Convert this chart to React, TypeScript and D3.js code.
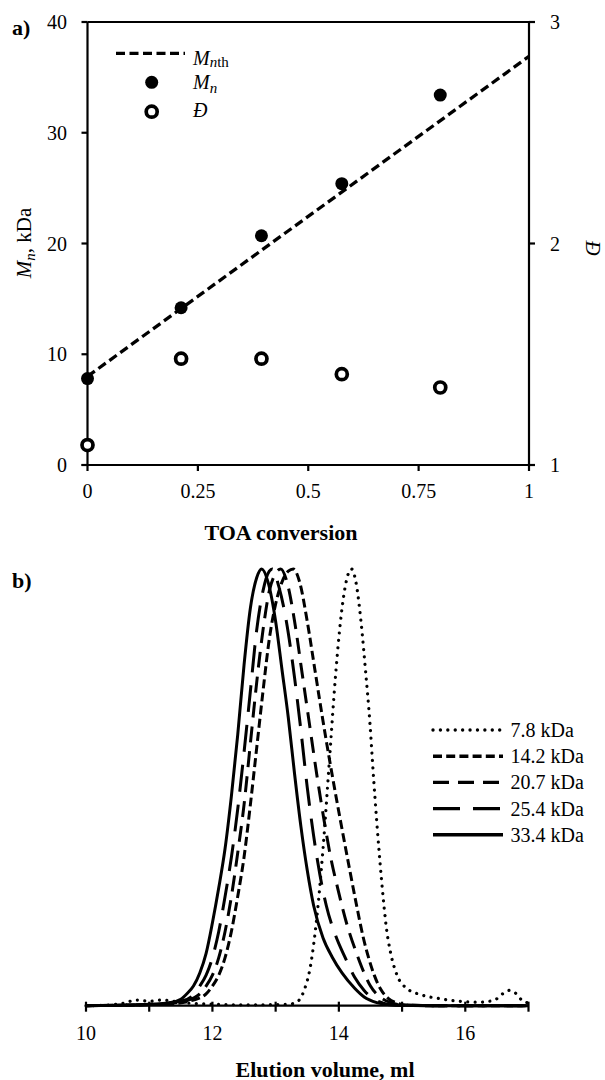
import React from "react";
import * as d3 from "d3";

// ---------- Panel a data ----------
const conversion = [0, 0.212, 0.394, 0.576, 0.799];
const mnValues = [7.8, 14.2, 20.7, 25.4, 33.4];
const dispersity = [1.09, 1.48, 1.48, 1.41, 1.35];
const mnthConversion = [0, 1];
const mnthValues = [8.0, 36.9];
const xTicksTop = [0, 0.25, 0.5, 0.75, 1];
const xTickLabelsTop = ["0", "0.25", "0.5", "0.75", "1"];
const yTicksLeft = [0, 10, 20, 30, 40];
const yTicksRight = [1, 2, 3];

// ---------- Panel b data (elution volume ml, normalised signal) ----------
const elution78: [number, number][] = [
  [10.0, 0], [10.4, 0.002], [10.6, 0.006], [10.8, 0.013], [11.0, 0.01], [11.2, 0.013], [11.4, 0.01],
  [11.6, 0.006], [11.9, 0.004], [12.5, 0.002], [13.2, 0.003], [13.35, 0.01], [13.45, 0.035],
  [13.55, 0.09], [13.65, 0.2], [13.75, 0.36], [13.85, 0.56], [13.95, 0.76], [14.05, 0.91],
  [14.14, 0.985], [14.2, 1.0], [14.27, 0.97], [14.35, 0.88], [14.42, 0.77], [14.49, 0.65],
  [14.55, 0.52], [14.6, 0.42], [14.68, 0.28], [14.75, 0.18], [14.82, 0.12], [14.92, 0.07],
  [15.07, 0.04], [15.3, 0.025], [15.6, 0.016], [15.9, 0.01], [16.2, 0.008], [16.45, 0.012],
  [16.6, 0.028], [16.7, 0.035], [16.8, 0.028], [16.9, 0.012], [17.0, 0.006],
];
const elution142: [number, number][] = [
  [10.0, 0], [11.3, 0.004], [11.7, 0.013], [11.9, 0.027], [12.0, 0.045], [12.1, 0.07], [12.2, 0.11],
  [12.3, 0.17], [12.4, 0.25], [12.5, 0.34], [12.6, 0.46], [12.7, 0.59], [12.8, 0.72], [12.9, 0.84],
  [13.0, 0.92], [13.1, 0.97], [13.2, 0.995], [13.28, 1.0], [13.38, 0.97], [13.5, 0.88], [13.62, 0.77],
  [13.74, 0.66], [13.88, 0.54], [14.03, 0.42], [14.16, 0.32], [14.28, 0.23], [14.38, 0.16],
  [14.47, 0.11], [14.56, 0.07], [14.66, 0.038], [14.78, 0.017], [14.92, 0.006], [15.1, 0.001],
  [15.5, 0], [17.0, 0],
];
const elution207: [number, number][] = [
  [10.0, 0], [11.2, 0.004], [11.6, 0.012], [11.8, 0.027], [11.9, 0.045], [12.0, 0.07], [12.1, 0.11],
  [12.2, 0.17], [12.3, 0.25], [12.4, 0.35], [12.5, 0.46], [12.6, 0.6], [12.7, 0.74], [12.8, 0.86],
  [12.9, 0.95], [13.0, 0.99], [13.08, 1.0], [13.18, 0.97], [13.3, 0.88], [13.42, 0.76], [13.53, 0.65],
  [13.65, 0.53], [13.76, 0.43], [13.87, 0.34], [13.98, 0.27], [14.12, 0.19], [14.28, 0.12],
  [14.4, 0.075], [14.5, 0.045], [14.65, 0.02], [14.8, 0.008], [15.0, 0.002], [15.5, 0], [17.0, 0],
];
const elution254: [number, number][] = [
  [10.0, 0], [11.0, 0.003], [11.5, 0.01], [11.7, 0.025], [11.8, 0.045], [11.9, 0.07], [12.0, 0.11],
  [12.1, 0.17], [12.2, 0.25], [12.3, 0.34], [12.4, 0.45], [12.5, 0.58], [12.6, 0.72], [12.7, 0.86],
  [12.8, 0.95], [12.9, 0.995], [12.95, 1.0], [13.05, 0.96], [13.17, 0.88], [13.3, 0.75], [13.4, 0.63],
  [13.5, 0.5], [13.6, 0.39], [13.7, 0.3], [13.8, 0.23], [13.95, 0.16], [14.1, 0.11], [14.25, 0.065],
  [14.4, 0.035], [14.55, 0.015], [14.7, 0.006], [14.9, 0.001], [15.5, 0], [17.0, 0],
];
const elution334: [number, number][] = [
  [10.0, 0], [10.8, 0.002], [11.3, 0.006], [11.5, 0.015], [11.6, 0.028], [11.7, 0.045], [11.8, 0.075],
  [11.9, 0.12], [12.0, 0.19], [12.1, 0.27], [12.2, 0.36], [12.3, 0.48], [12.4, 0.62], [12.5, 0.78],
  [12.6, 0.91], [12.7, 0.98], [12.78, 1.0], [12.88, 0.97], [13.0, 0.88], [13.1, 0.77], [13.2, 0.66],
  [13.3, 0.53], [13.4, 0.41], [13.5, 0.31], [13.6, 0.23], [13.75, 0.155], [13.9, 0.11], [14.05, 0.075],
  [14.25, 0.04], [14.4, 0.02], [14.6, 0.007], [14.8, 0.002], [15.5, 0], [17.0, 0],
];
const seriesLabels = ["7.8 kDa", "14.2 kDa", "20.7 kDa", "25.4 kDa", "33.4 kDa"];
const seriesData = [elution78, elution142, elution207, elution254, elution334];
const seriesDash = ["0.01 7.4", "9 4.2", "16 9", "27 13", ""];
const xTicksBottom = [10, 11, 12, 13, 14, 15, 16, 17];
const xTickLabelsBottom = [10, 12, 14, 16];

const FONT = "'Liberation Serif', 'Times New Roman', serif";

export default function App() {
  const xTop = d3.scaleLinear().domain([0, 1]).range([87.5, 529]);
  const yLeft = d3.scaleLinear().domain([0, 40]).range([465, 22]);
  const yRight = d3.scaleLinear().domain([1, 3]).range([465, 22]);

  const xBot = d3.scaleLinear().domain([10, 17]).range([86, 528.5]);
  const yBot = d3.scaleLinear().domain([0, 1]).range([1005.7, 569]);

  const mnthLine = d3
    .line<number>()
    .x((_, i) => xTop(mnthConversion[i]))
    .y((d) => yLeft(d));

  const elutionLine = d3
    .line<[number, number]>()
    .x((d) => xBot(d[0]))
    .y((d) => yBot(d[1]))
    .curve(d3.curveMonotoneX);

  const axisW = 2.2;
  const legendRows = seriesLabels.map((_, i) => 730 + 26.2 * i);

  return (
    <svg
      width={605}
      height={1080}
      style={{ position: "absolute", left: 0, top: 0, background: "#fff", fontFamily: FONT }}
    >
      <rect x={0} y={0} width={605} height={1080} fill="#fff" />
      {/* ================= Panel a ================= */}
      <text x={12} y={35} fontSize={22} fontWeight="bold">a)</text>

      {/* frame */}
      <line x1={xTop(0)} x2={xTop(1)} y1={yLeft(40)} y2={yLeft(40)} stroke="#000" strokeWidth={axisW} />
      <line x1={xTop(0)} x2={xTop(0)} y1={yLeft(0)} y2={yLeft(40)} stroke="#000" strokeWidth={axisW} />
      <line x1={xTop(1)} x2={xTop(1)} y1={yLeft(0)} y2={yLeft(40)} stroke="#000" strokeWidth={axisW} />
      <line x1={xTop(0) - 6} x2={xTop(1) + 6} y1={yLeft(0)} y2={yLeft(0)} stroke="#000" strokeWidth={axisW} />

      {/* left ticks */}
      {yTicksLeft.map((t) => (
        <g key={"yl" + t}>
          <line x1={xTop(0) - 6} x2={xTop(0)} y1={yLeft(t)} y2={yLeft(t)} stroke="#000" strokeWidth={axisW} />
          <text x={67} y={yLeft(t) + 7} fontSize={20} textAnchor="end">{t}</text>
        </g>
      ))}
      {/* right ticks */}
      {yTicksRight.map((t) => (
        <g key={"yr" + t}>
          <line x1={xTop(1)} x2={xTop(1) + 6} y1={yRight(t)} y2={yRight(t)} stroke="#000" strokeWidth={axisW} />
          <text x={550} y={yRight(t) + 7} fontSize={20} textAnchor="start">{t}</text>
        </g>
      ))}
      {/* bottom ticks */}
      {xTicksTop.map((t, i) => (
        <g key={"xt" + t}>
          <line x1={xTop(t)} x2={xTop(t)} y1={yLeft(0)} y2={yLeft(0) + 6} stroke="#000" strokeWidth={axisW} />
          <text x={xTop(t)} y={498} fontSize={20} textAnchor="middle">{xTickLabelsTop[i]}</text>
        </g>
      ))}

      {/* axis titles */}
      <text transform="translate(31,243) rotate(-90)" fontSize={21} textAnchor="middle">
        <tspan fontStyle="italic">M</tspan>
        <tspan fontStyle="italic" fontSize={15} dy={4}>n</tspan>
        <tspan dy={-4}>, kDa</tspan>
      </text>
      <text transform="translate(586,248) rotate(90)" fontSize={21} fontStyle="italic" textAnchor="middle">Đ</text>
      <text x={281} y={540} fontSize={22} fontWeight="bold" textAnchor="middle">TOA conversion</text>

      {/* Mn,th dashed line */}
      <path d={mnthLine(mnthValues) || ""} fill="none" stroke="#000" strokeWidth={3.3} strokeDasharray="9 4.5" />

      {/* Mn filled points */}
      {mnValues.map((v, i) => (
        <circle key={"mn" + i} cx={xTop(conversion[i])} cy={yLeft(v)} r={6.5} fill="#000" />
      ))}
      {/* Dispersity open points */}
      {dispersity.map((v, i) => (
        <circle key={"d" + i} cx={xTop(conversion[i])} cy={yRight(v)} r={5.5} fill="#fff" stroke="#000" strokeWidth={3.7} />
      ))}

      {/* legend a */}
      <line x1={116} x2={185} y1={53.3} y2={53.3} stroke="#000" strokeWidth={3.3} strokeDasharray="9 4.5" />
      <text x={193} y={65} fontSize={20}>
        <tspan fontStyle="italic">M</tspan>
        <tspan fontStyle="italic" fontSize={15} dy={2}>n</tspan>
        <tspan fontSize={15}>th</tspan>
      </text>
      <circle cx={151.7} cy={82.3} r={6.5} fill="#000" />
      <text x={193} y={88.5} fontSize={20}>
        <tspan fontStyle="italic">M</tspan>
        <tspan fontStyle="italic" fontSize={15} dy={4}>n</tspan>
      </text>
      <circle cx={151.7} cy={111.7} r={5.5} fill="#fff" stroke="#000" strokeWidth={3.7} />
      <text x={193} y={117} fontSize={20} fontStyle="italic">Đ</text>

      {/* ================= Panel b ================= */}
      <text x={12} y={588} fontSize={22} fontWeight="bold">b)</text>

      {seriesData.map((s, i) => (
        <path
          key={"s" + i}
          d={elutionLine(s) || ""}
          fill="none"
          stroke="#000"
          strokeWidth={i === 0 ? 3.2 : 3}
          strokeDasharray={seriesDash[i] || undefined}
          strokeLinecap={i === 0 ? "round" : "butt"}
          strokeLinejoin="round"
        />
      ))}

      {/* x axis */}
      <line x1={xBot(10)} x2={xBot(17)} y1={yBot(0)} y2={yBot(0)} stroke="#000" strokeWidth={axisW} />
      {xTicksBottom.map((t) => (
        <line key={"xb" + t} x1={xBot(t)} x2={xBot(t)} y1={yBot(0) - 4} y2={yBot(0) + 6} stroke="#000" strokeWidth={axisW} />
      ))}
      {xTickLabelsBottom.map((t) => (
        <text key={"xbl" + t} x={xBot(t)} y={1040} fontSize={20} textAnchor="middle">{t}</text>
      ))}
      <text x={325} y={1076.5} fontSize={22} fontWeight="bold" textAnchor="middle">Elution volume, ml</text>

      {/* legend b */}
      {seriesLabels.map((lab, i) => (
        <g key={"lg" + i}>
          <line
            x1={433}
            x2={503}
            y1={legendRows[i]}
            y2={legendRows[i]}
            stroke="#000"
            strokeWidth={i === 0 ? 3.4 : 3.4}
            strokeDasharray={seriesDash[i] || undefined}
            strokeLinecap={i === 0 ? "round" : "butt"}
          />
          <text x={510.5} y={legendRows[i] + 7} fontSize={20}>{lab}</text>
        </g>
      ))}
    </svg>
  );
}
